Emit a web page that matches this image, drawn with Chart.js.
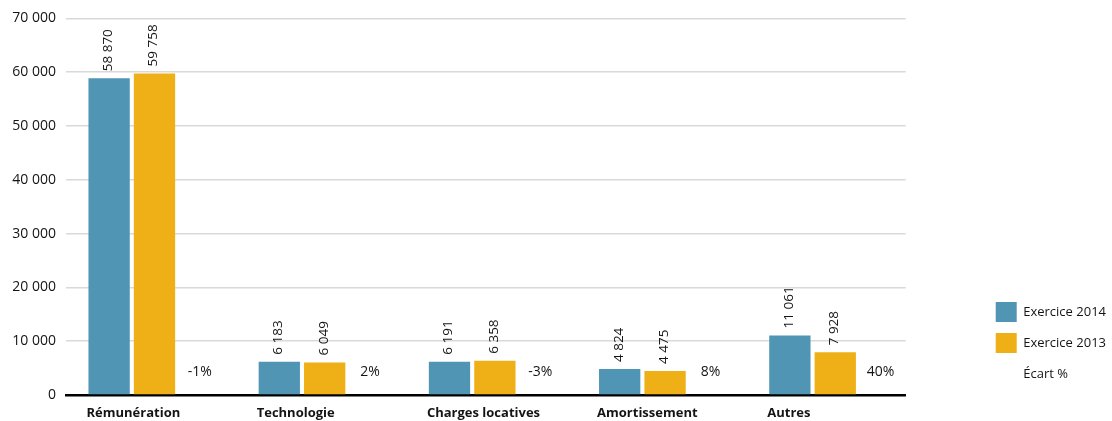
<!DOCTYPE html>
<html lang="fr">
<head>
<meta charset="utf-8">
<title>Charges par nature</title>
<script src="https://cdn.jsdelivr.net/npm/chart.js@4/dist/chart.umd.min.js"></script>
<style>
  html, body { margin: 0; padding: 0; background: #ffffff; }
  #wrap { width: 1112px; height: 421px; }
</style>
</head>
<body>
<div id="wrap"><canvas id="chart" width="1112" height="421"></canvas></div>
<script>
// Charges par nature (en milliers), exercices 2014 et 2013
const categories = ['Rémunération', 'Technologie', 'Charges locatives', 'Amortissement', 'Autres'];
const exercice2014 = [58870, 6183, 6191, 4824, 11061];
const exercice2013 = [59758, 6049, 6358, 4475, 7928];
const ecartPct = [-1, 2, -3, 8, 40];
const yTickValues = [0, 10000, 20000, 30000, 40000, 50000, 60000, 70000];

const BLUE = '#5095b4';
const GOLD = '#efb017';
const INK = '#141414';
const FONT = "'Open Sans', 'Noto Sans', sans-serif";

// French-style thousands grouping with a plain space
const fmt = v => String(v).replace(/\B(?=(\d{3})+(?!\d))/g, ' ');

const toPoints = arr => arr.map((v, i) => ({ x: i, y: v }));

// Value labels: rotated amounts above the bars, plain percentages for the gap series
const valueLabels = {
  id: 'valueLabels',
  afterDatasetsDraw(chart) {
    const ctx = chart.ctx;
    ctx.save();
    ctx.fillStyle = INK;
    chart.data.datasets.forEach((ds, di) => {
      const meta = chart.getDatasetMeta(di);
      meta.data.forEach((bar, i) => {
        const v = ds.data[i].y;
        if (ds.isPercent) {
          ctx.font = '14px ' + FONT;
          ctx.textAlign = 'center';
          ctx.textBaseline = 'middle';
          ctx.fillText(v + '%', bar.x, bar.y - 23);
        } else {
          ctx.save();
          ctx.font = '13.5px ' + FONT;
          ctx.translate(bar.x - 1, bar.y - 7);
          ctx.rotate(-Math.PI / 2);
          ctx.textAlign = 'left';
          ctx.textBaseline = 'middle';
          ctx.fillText(fmt(v), 0, 0);
          ctx.restore();
        }
      });
    });
    ctx.restore();
  }
};

new Chart(document.getElementById('chart'), {
  type: 'bar',
  data: {
    datasets: [
      { label: 'Exercice 2014', data: toPoints(exercice2014), backgroundColor: BLUE, borderWidth: 0 },
      { label: 'Exercice 2013', data: toPoints(exercice2013), backgroundColor: GOLD, borderWidth: 0 },
      { label: 'Écart %', data: toPoints(ecartPct), backgroundColor: 'rgba(0,0,0,0)', borderColor: 'rgba(0,0,0,0)', borderWidth: 0, isPercent: true }
    ]
  },
  options: {
    responsive: false,
    animation: false,
    events: [],
    categoryPercentage: 0.8,
    barPercentage: 0.91,
    layout: { padding: { top: 17, bottom: 0, left: 0, right: -4 } },
    plugins: {
      tooltip: { enabled: false },
      legend: {
        position: 'right',
        align: 'end',
        fullSize: false,
        labels: {
          boxWidth: 21,
          boxHeight: 20,
          padding: 11,
          color: INK,
          font: { family: FONT, size: 13 }
        }
      }
    },
    scales: {
      x: {
        type: 'linear',
        min: -0.52,
        max: 4.414,
        offset: false,
        afterBuildTicks(scale) { scale.ticks = categories.map((_, i) => ({ value: i })); },
        afterFit(scale) { scale.height = 26; },
        grid: { display: false, drawTicks: false },
        border: { display: true, color: '#000000', width: 2.5 },
        ticks: {
          autoSkip: false,
          maxRotation: 0,
          align: 'start',
          labelOffset: -68,
          padding: 10,
          color: INK,
          font: { family: FONT, size: 13, weight: 'bold' },
          callback: v => categories[v]
        }
      },
      y: {
        min: 0,
        max: 70000,
        afterBuildTicks(scale) { scale.ticks = yTickValues.map(v => ({ value: v })); },
        afterFit(scale) { scale.width = 66; },
        grid: { color: '#d9d9d9', lineWidth: 1.5, drawTicks: false },
        border: { display: false },
        ticks: {
          padding: 10,
          color: INK,
          font: { family: FONT, size: 14 },
          callback: v => fmt(v)
        }
      },
      // empty right-hand axis keeping the legend apart from the plot
      gap: {
        type: 'linear',
        position: 'right',
        display: true,
        afterFit(scale) { scale.width = 79; },
        grid: { display: false, drawTicks: false },
        border: { display: false },
        ticks: { display: false }
      }
    }
  },
  plugins: [valueLabels]
});
</script>
</body>
</html>
